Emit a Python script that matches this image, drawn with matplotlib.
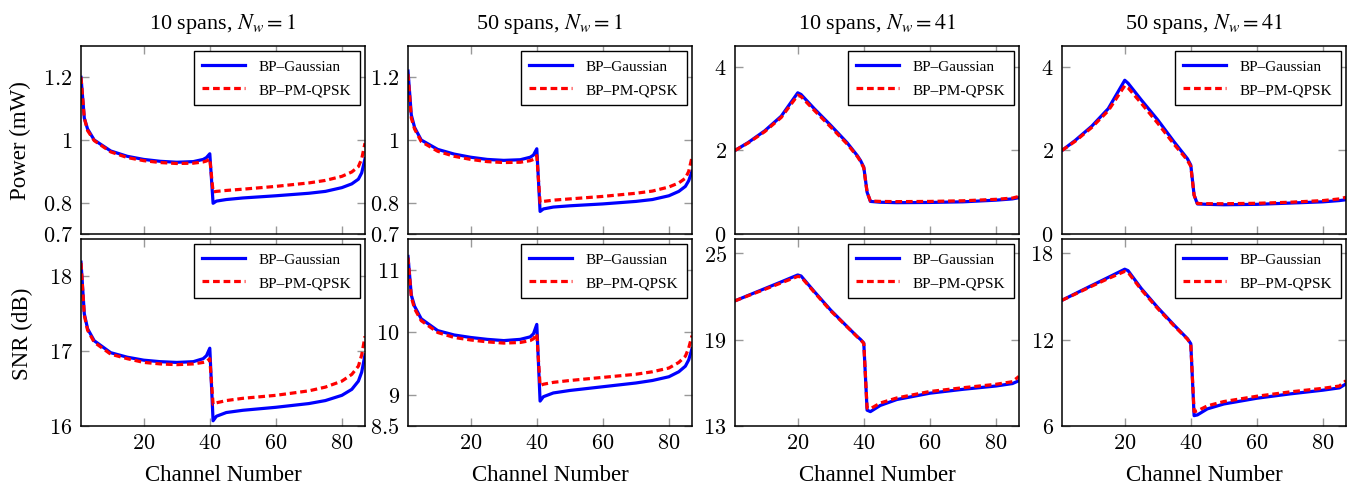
import matplotlib
matplotlib.use("Agg")
import matplotlib.pyplot as plt

plt.rcParams['font.family'] = ['Liberation Serif', 'DejaVu Serif']
plt.rcParams['mathtext.fontset'] = 'stix'

# channels used for the Nw = 1 curves
ch_a = [1, 2, 3, 5, 10, 15, 20, 25, 30, 35, 38, 39, 40, 41, 42, 45, 50, 60, 70, 75, 80, 83, 85, 86, 87]
# channels used for the Nw = 41 curves
ch_b = [1, 5, 10, 15, 20, 21, 25, 30, 35, 38, 39, 40, 41, 42, 45, 50, 60, 70, 80, 85, 87]

# 10 spans, Nw = 1
pow_10_1_gauss = [1.20, 1.07, 1.035, 1.0, 0.965, 0.948, 0.938, 0.932, 0.929, 0.931, 0.938, 0.944, 0.956,
                  0.798, 0.805, 0.810, 0.815, 0.822, 0.830, 0.836, 0.848, 0.860, 0.875, 0.895, 0.94]
pow_10_1_qpsk = [1.20, 1.07, 1.03, 0.998, 0.962, 0.944, 0.934, 0.928, 0.925, 0.926, 0.930, 0.933, 0.94,
                 0.834, 0.836, 0.839, 0.843, 0.852, 0.863, 0.871, 0.884, 0.898, 0.915, 0.94, 0.99]
snr_10_1_gauss = [18.19, 17.5, 17.3, 17.14, 16.98, 16.92, 16.88, 16.86, 16.85, 16.86, 16.9, 16.94, 17.04,
                  16.07, 16.13, 16.18, 16.21, 16.25, 16.3, 16.34, 16.41, 16.49, 16.6, 16.72, 16.95]
snr_10_1_qpsk = [18.18, 17.48, 17.28, 17.12, 16.96, 16.9, 16.85, 16.83, 16.82, 16.83, 16.85, 16.86, 16.9,
                 16.29, 16.31, 16.34, 16.37, 16.41, 16.47, 16.52, 16.6, 16.69, 16.8, 16.95, 17.2]

# 50 spans, Nw = 1
pow_50_1_gauss = [1.22, 1.08, 1.04, 1.0, 0.97, 0.955, 0.945, 0.938, 0.935, 0.937, 0.945, 0.952, 0.972,
                  0.772, 0.78, 0.786, 0.79, 0.796, 0.804, 0.81, 0.822, 0.836, 0.852, 0.87, 0.9]
pow_50_1_qpsk = [1.21, 1.07, 1.035, 0.995, 0.964, 0.948, 0.938, 0.931, 0.928, 0.929, 0.934, 0.938, 0.95,
                 0.80, 0.804, 0.808, 0.812, 0.82, 0.83, 0.837, 0.85, 0.863, 0.878, 0.9, 0.945]
snr_50_1_gauss = [11.22, 10.6, 10.42, 10.22, 10.03, 9.96, 9.92, 9.89, 9.87, 9.89, 9.93, 9.98, 10.13,
                  8.9, 8.97, 9.03, 9.07, 9.13, 9.19, 9.23, 9.29, 9.37, 9.46, 9.56, 9.74]
snr_50_1_qpsk = [11.2, 10.57, 10.38, 10.19, 10.0, 9.92, 9.88, 9.85, 9.83, 9.84, 9.87, 9.9, 9.98,
                 9.15, 9.17, 9.2, 9.23, 9.28, 9.33, 9.37, 9.43, 9.52, 9.62, 9.75, 9.95]

# 10 spans, Nw = 41
pow_10_41_gauss = [2.0, 2.19, 2.47, 2.82, 3.38, 3.34, 3.0, 2.6, 2.18, 1.88, 1.76, 1.6, 1.0, 0.78,
                   0.76, 0.75, 0.755, 0.77, 0.81, 0.84, 0.87]
pow_10_41_qpsk = [2.0, 2.18, 2.45, 2.79, 3.32, 3.29, 2.96, 2.56, 2.15, 1.86, 1.74, 1.58, 1.0, 0.79,
                  0.78, 0.775, 0.78, 0.795, 0.83, 0.86, 0.9]
snr_10_41_gauss = [21.7, 22.08, 22.55, 23.02, 23.5, 23.43, 22.35, 21.05, 19.9, 19.22, 19.02, 18.77, 14.1, 14.0,
                   14.43, 14.84, 15.28, 15.55, 15.78, 15.95, 16.15]
snr_10_41_qpsk = [21.7, 22.06, 22.5, 22.95, 23.4, 23.36, 22.3, 21.0, 19.88, 19.2, 19.0, 18.74, 14.25, 14.2,
                  14.6, 14.95, 15.4, 15.66, 15.9, 16.08, 16.45]

# 50 spans, Nw = 41
pow_50_41_gauss = [2.0, 2.24, 2.58, 3.0, 3.68, 3.61, 3.21, 2.73, 2.2, 1.9, 1.8, 1.65, 0.93, 0.72,
                   0.71, 0.70, 0.71, 0.74, 0.77, 0.8, 0.82]
pow_50_41_qpsk = [2.0, 2.22, 2.55, 2.95, 3.55, 3.5, 3.13, 2.65, 2.14, 1.86, 1.76, 1.62, 0.93, 0.73,
                  0.725, 0.725, 0.735, 0.76, 0.8, 0.84, 0.88]
snr_50_41_gauss = [14.74, 15.2, 15.77, 16.33, 16.9, 16.8, 15.56, 14.23, 13.0, 12.3, 12.07, 11.72, 6.72, 6.77,
                   7.19, 7.53, 7.93, 8.23, 8.49, 8.65, 8.93]
snr_50_41_qpsk = [14.74, 15.17, 15.72, 16.25, 16.75, 16.68, 15.48, 14.16, 12.95, 12.26, 12.03, 11.7, 7.0, 7.05,
                  7.4, 7.7, 8.07, 8.37, 8.62, 8.78, 9.15]

titles = [r"10 spans, $N_w = 1$", r"50 spans, $N_w = 1$", r"10 spans, $N_w = 41$", r"50 spans, $N_w = 41$"]
channels = [ch_a, ch_a, ch_b, ch_b]
power = [(pow_10_1_gauss, pow_10_1_qpsk), (pow_50_1_gauss, pow_50_1_qpsk),
         (pow_10_41_gauss, pow_10_41_qpsk), (pow_50_41_gauss, pow_50_41_qpsk)]
snr = [(snr_10_1_gauss, snr_10_1_qpsk), (snr_50_1_gauss, snr_50_1_qpsk),
       (snr_10_41_gauss, snr_10_41_qpsk), (snr_50_41_gauss, snr_50_41_qpsk)]

x_ticks = [20, 40, 60, 80]
pow_ylim = [(0.7, 1.3), (0.7, 1.3), (0, 4.5), (0, 4.5)]
pow_ticks = [[0.7, 0.8, 1, 1.2], [0.7, 0.8, 1, 1.2], [0, 2, 4], [0, 2, 4]]
pow_ticklabels = [["0.7", "0.8", "1", "1.2"], ["0.7", "0.8", "1", "1.2"], ["0", "2", "4"], ["0", "2", "4"]]
snr_ylim = [(16, 18.5), (8.5, 11.5), (13, 26), (6, 19)]
snr_ticks = [[16, 17, 18], [8.5, 9, 10, 11], [13, 19, 25], [6, 12, 18]]
snr_ticklabels = [["16", "17", "18"], ["8.5", "9", "10", "11"], ["13", "19", "25"], ["6", "12", "18"]]

W, H = 1363, 489
fig = plt.figure(figsize=(W / 100, H / 100), dpi=100)

lefts = [81, 408, 735, 1062]
aw = 284
tick_fs = 16


def style(ax):
    ax.set_xlim(1, 87)
    ax.set_xticks(x_ticks)
    ax.set_xticklabels(["$%d$" % t for t in x_ticks], math_fontfamily='cm', fontsize=tick_fs)
    ax.tick_params(direction='in', length=6, width=1, color='0.6', top=True, right=True, pad=6)
    for s in ax.spines.values():
        s.set_linewidth(1.1)
        s.set_color('black')


def draw(ax, x, g, q):
    ax.plot(x, g, color=(0, 0, 1), lw=2.3, label="BP–Gaussian")
    ax.plot(x, q, color=(1, 0, 0), lw=2.3, dashes=[2.1, 1.2], label="BP–PM-QPSK")
    leg = ax.legend(loc='upper right', fontsize=11, fancybox=False, framealpha=1,
                    edgecolor='black', handlelength=2.8, handletextpad=0.9, borderaxespad=0.35,
                    borderpad=0.55, labelspacing=0.6)
    leg.get_frame().set_linewidth(1.0)


for i in range(4):
    l = lefts[i] / W
    ax1 = fig.add_axes([l, 1 - 235 / H, aw / W, 188 / H])
    ax2 = fig.add_axes([l, 1 - 427 / H, aw / W, 187 / H])
    style(ax1)
    style(ax2)
    draw(ax1, channels[i], power[i][0], power[i][1])
    draw(ax2, channels[i], snr[i][0], snr[i][1])
    ax1.set_ylim(*pow_ylim[i])
    ax1.set_yticks(pow_ticks[i])
    ax1.set_yticklabels(["$%s$" % s for s in pow_ticklabels[i]], math_fontfamily='cm', fontsize=tick_fs)
    ax1.tick_params(labelbottom=False)
    ax2.set_ylim(*snr_ylim[i])
    ax2.set_yticks(snr_ticks[i])
    ax2.set_yticklabels(["$%s$" % s for s in snr_ticklabels[i]], math_fontfamily='cm', fontsize=tick_fs)
    ax1.set_title(titles[i], fontsize=16, pad=13)
    ax2.set_xlabel("Channel Number", fontsize=16.5, labelpad=8)
    if i == 0:
        ax1.set_ylabel("Power (mW)", fontsize=16.5, labelpad=8)
        ax2.set_ylabel("SNR (dB)", fontsize=16.5, labelpad=11)

fig.savefig("out.png", dpi=100)
